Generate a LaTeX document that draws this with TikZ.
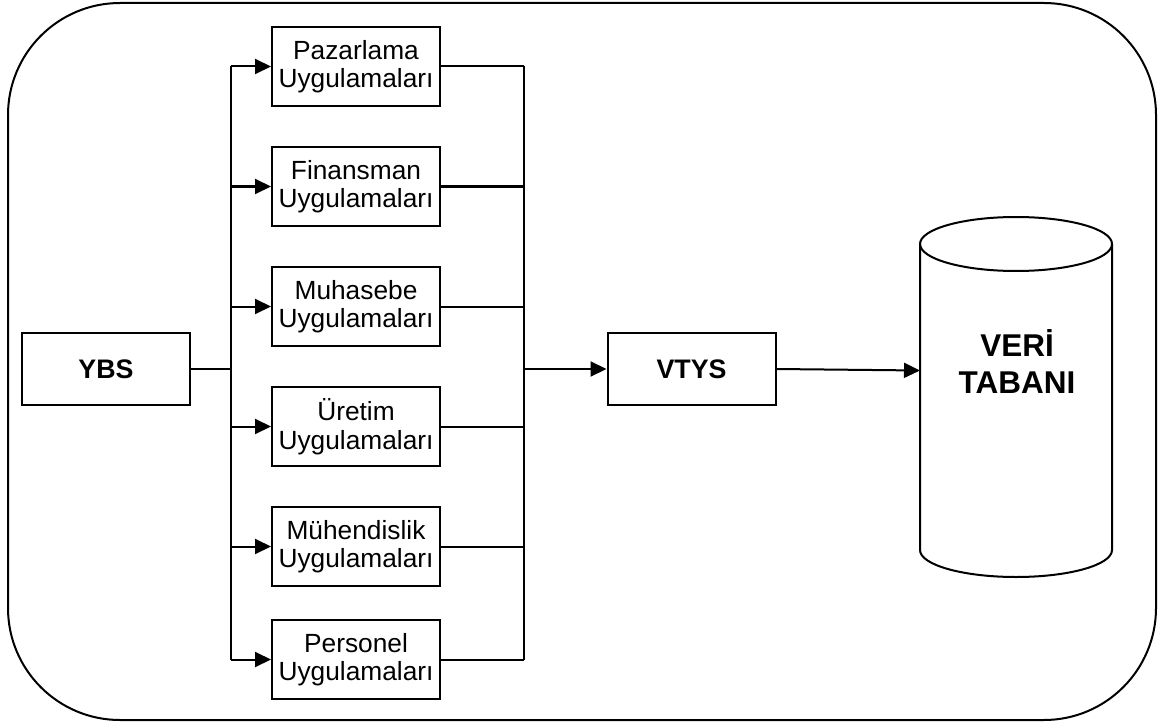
\documentclass[tikz,border=0pt]{standalone}
\usepackage{fontspec}
\setmainfont{Liberation Sans}
\usetikzlibrary{arrows.meta}
\tikzset{
  appbox/.style={draw, line width=2pt, minimum width=168pt, minimum height=79pt, inner sep=0pt, align=center,
    font=\fontsize{26.3}{28.5}\selectfont},
  mainbox/.style={draw, line width=2pt, minimum width=168pt, minimum height=72pt, inner sep=0pt, align=center,
    font=\fontsize{26.8}{28.5}\selectfont\bfseries},
  dbtext/.style={align=center, inner sep=0pt, font=\fontsize{31.5}{37}\selectfont\bfseries},
  conn/.style={line width=2pt},
  arr/.style={line width=2pt, -{Triangle[length=16pt,width=15pt]}},
  frame/.style={line width=2pt, rounded corners=112pt}
}
\begin{document}
\begin{tikzpicture}[x=1pt,y=-1pt]
\useasboundingbox (0,0) rectangle (1158,722);
\draw[frame] (8,3) rectangle (1156,720);

\node[mainbox] (ybs) at (106,369) {YBS};
\node[mainbox] (vtys) at (691.5,369) {VTYS};

\node[appbox] (a1) at (356,66.5) {Pazarlama\\Uygulamaları};
\node[appbox] (a2) at (356,186.5) {Finansman\\Uygulamaları};
\node[appbox] (a3) at (356,306.5) {Muhasebe\\Uygulamaları};
\node[appbox] (a4) at (356,426.5) {Üretim\\Uygulamaları};
\node[appbox] (a5) at (356,546.5) {Mühendislik\\Uygulamaları};
\node[appbox] (a6) at (356,659.5) {Personel\\Uygulamaları};

\coordinate (jl) at (231,369);
\coordinate (jr) at (524,369);

% database cylinder
\draw[conn] (920,244) -- (920,550) arc[start angle=180, end angle=0, x radius=96, y radius=27] -- (1112,244);
\draw[conn] (1016,244) ellipse [x radius=96, y radius=27];
\coordinate (dbin) at (920,370.5);
\node[dbtext] (db) at (1017,362) {VERİ\\TABANI};

% connectors
\draw[conn] (ybs.east) -- (jl);
\draw[conn] (jl |- a1.west) -- (jl |- a6.west);
\foreach \n in {a1,a2,a3,a4,a5,a6}{
  \draw[arr] (jl |- \n.west) -- (\n.west);
  \draw[conn] (\n.east) -- (jr |- \n.east);
}
\draw[conn] (jr |- a1.east) -- (jr |- a6.east);
\draw[arr] (jr) -- (vtys.west);
\draw[arr] (vtys.east) -- (dbin);
\end{tikzpicture}
\end{document}
